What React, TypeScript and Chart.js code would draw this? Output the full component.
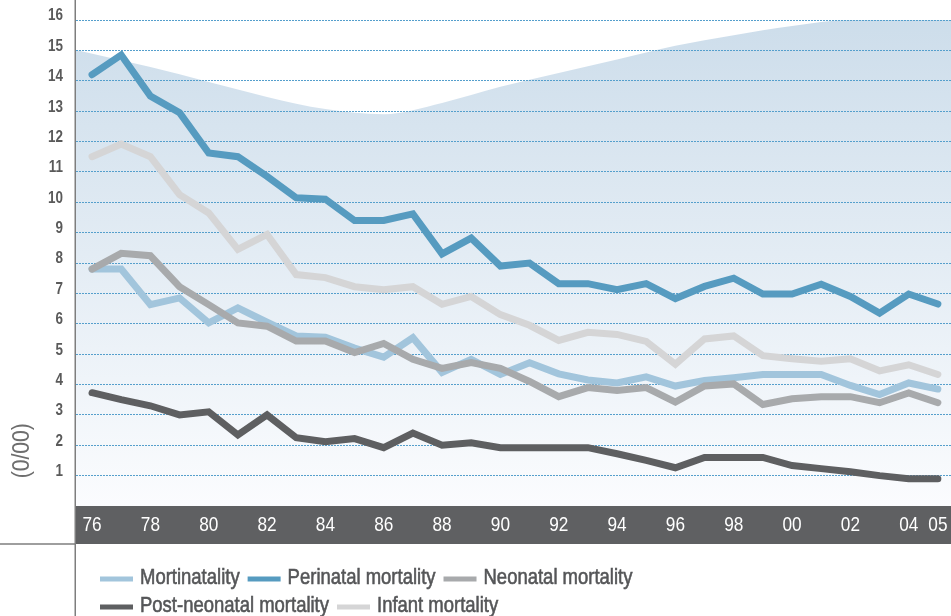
import React, { useEffect, useRef } from 'react';
import { Chart, registerables } from 'chart.js';

Chart.register(...registerables);

const BASE_FONT = "'Liberation Sans', Arial, sans-serif";

const years = [
  1976, 1977, 1978, 1979, 1980, 1981, 1982, 1983, 1984, 1985,
  1986, 1987, 1988, 1989, 1990, 1991, 1992, 1993, 1994, 1995,
  1996, 1997, 1998, 1999, 2000, 2001, 2002, 2003, 2004, 2005,
];

const mortinatality = [
  7.8, 7.8, 6.63, 6.85, 6.03, 6.52, 6.05, 5.6, 5.56, 5.2,
  4.9, 5.54, 4.4, 4.83, 4.33, 4.72, 4.35, 4.15, 4.05, 4.25,
  3.95, 4.13, 4.22, 4.33, 4.33, 4.33, 3.97, 3.67, 4.05, 3.85,
];

const perinatal = [
  14.2, 14.85, 13.5, 12.95, 11.62, 11.5, 10.85, 10.15, 10.1, 9.4,
  9.4, 9.62, 8.3, 8.82, 7.9, 8.0, 7.32, 7.32, 7.12, 7.32,
  6.83, 7.23, 7.5, 6.98, 6.98, 7.3, 6.9, 6.35, 6.98, 6.65,
];

const neonatal = [
  7.8, 8.32, 8.24, 7.22, 6.63, 6.03, 5.92, 5.43, 5.43, 5.05,
  5.35, 4.83, 4.53, 4.72, 4.53, 4.1, 3.6, 3.9, 3.8, 3.9,
  3.42, 3.95, 4.02, 3.34, 3.53, 3.6, 3.6, 3.4, 3.72, 3.4,
];

const postNeonatal = [
  3.73, 3.5, 3.3, 3.0, 3.1, 2.34, 3.0, 2.25, 2.12, 2.22,
  1.92, 2.4, 2.0, 2.08, 1.92, 1.92, 1.92, 1.92, 1.72, 1.5,
  1.26, 1.6, 1.6, 1.6, 1.33, 1.23, 1.13, 1.0, 0.9, 0.9,
];

const infant = [
  11.5, 11.92, 11.5, 10.25, 9.65, 8.45, 8.94, 7.62, 7.52, 7.22,
  7.12, 7.22, 6.64, 6.9, 6.3, 5.95, 5.45, 5.72, 5.65, 5.42,
  4.67, 5.5, 5.6, 4.95, 4.85, 4.77, 4.85, 4.45, 4.65, 4.33,
];

// decorative shaded area (upper edge)
const bgYears = [1975.3, 1978, 1980, 1982, 1984, 1986, 1988, 1990, 1992, 1994, 1996, 1998, 2000, 2002, 2004, 2005.6];
const bgValues = [15.05, 14.45, 13.96, 13.47, 13.07, 12.9, 13.27, 13.8, 14.26, 14.7, 15.15, 15.5, 15.8, 16.0, 16.0, 16.0];

const xTickYears = [1976, 1978, 1980, 1982, 1984, 1986, 1988, 1990, 1992, 1994, 1996, 1998, 2000, 2002, 2004, 2005];
const yTickValues = [1, 2, 3, 4, 5, 6, 7, 8, 9, 10, 11, 12, 13, 14, 15, 16];

const seriesNames = ['Mortinatality', 'Perinatal mortality', 'Neonatal mortality', 'Post-neonatal mortality', 'Infant mortality'];
const seriesValues = [mortinatality, perinatal, neonatal, postNeonatal, infant];
const seriesColors = ['#a2c5dc', '#569bc0', '#a8aaac', '#5e5f61', '#d5d5d6'];
const seriesOrder = [4, 2, 1, 3, 5];
const legendRows = [[0, 1, 2], [3, 4]];
const yTitle = '(0/00)';

const formatX = (v: any) => String(Number(v) % 100).padStart(2, '0');
const formatY = (v: any) => String(v);

function narrowText(
  ctx: CanvasRenderingContext2D,
  text: string,
  x: number,
  y: number,
  size: number,
  color: string,
  align: 'left' | 'center' | 'right',
  scaleX: number,
  weight = 'normal',
  stroke = 0,
) {
  ctx.save();
  ctx.font = `${weight} ${size}px ${BASE_FONT}`;
  ctx.fillStyle = color;
  ctx.strokeStyle = color;
  ctx.textBaseline = 'middle';
  ctx.textAlign = 'left';
  const w = ctx.measureText(text).width * scaleX;
  let left = x;
  if (align === 'center') left = x - w / 2;
  else if (align === 'right') left = x - w;
  ctx.translate(left, y);
  ctx.scale(scaleX, 1);
  ctx.fillText(text, 0, 0);
  if (stroke > 0) {
    ctx.lineWidth = stroke;
    ctx.strokeText(text, 0, 0);
  }
  ctx.restore();
  return w;
}

const decorPlugin = {
  id: 'decor',
  beforeDraw(chart: any) {
    const { ctx, chartArea, scales } = chart;
    const xs = scales.x;
    ctx.save();
    ctx.fillStyle = '#5f6062';
    ctx.fillRect(chartArea.left, xs.top, chart.width - chartArea.left, xs.bottom - xs.top);
    ctx.restore();
  },
  afterDraw(chart: any) {
    const { ctx, chartArea, scales } = chart;
    const xs = scales.x;
    const ys = scales.y;

    // axis frame lines
    ctx.save();
    ctx.strokeStyle = '#7e7e7e';
    ctx.lineWidth = 1.5;
    ctx.beginPath();
    ctx.moveTo(chartArea.left - 0.75, 0);
    ctx.lineTo(chartArea.left - 0.75, chart.height);
    ctx.stroke();
    ctx.beginPath();
    ctx.moveTo(0, xs.bottom);
    ctx.lineTo(chartArea.left, xs.bottom);
    ctx.stroke();
    ctx.restore();

    // x tick labels (from the scale's ticks)
    const xMid = (xs.top + xs.bottom) / 2;
    xs.ticks.forEach((t: any) => {
      const label = t.label !== undefined ? String(t.label) : formatX(t.value);
      narrowText(ctx, label, xs.getPixelForValue(t.value), xMid, 21, '#ffffff', 'center', 0.82);
    });

    // y tick labels (from the scale's ticks)
    ys.ticks.forEach((t: any) => {
      const label = t.label !== undefined ? String(t.label) : formatY(t.value);
      narrowText(ctx, label, chartArea.left - 13, ys.getPixelForValue(t.value) - 4, 16, '#5a5a5a', 'right', 0.84, 'bold');
    });

    // y title
    ctx.save();
    ctx.translate(23, ys.getPixelForValue(1.82));
    ctx.rotate(-Math.PI / 2);
    narrowText(ctx, yTitle, 0, 0, 23, '#6e6e6e', 'center', 0.92);
    ctx.restore();

    // legend
    const rowYs = [xs.bottom + 34, xs.bottom + 62];
    legendRows.forEach((row, r) => {
      let x = chartArea.left + 24;
      const y = rowYs[r];
      row.forEach((i) => {
        ctx.save();
        ctx.fillStyle = seriesColors[i];
        ctx.fillRect(x, y - 1.5, 33, 5);
        ctx.restore();
        const w = narrowText(ctx, seriesNames[i], x + 40, y, 22, '#555658', 'left', 0.84, 'normal', 0.6);
        x += 40 + w + 8;
      });
    });
  },
};

export default function App() {
  const ref = useRef<HTMLCanvasElement | null>(null);

  useEffect(() => {
    if (!ref.current) return;
    const datasets: any[] = seriesNames.map((name, i) => ({
      label: name,
      data: years.map((yr, j) => ({ x: yr, y: seriesValues[i][j] })),
      borderColor: seriesColors[i],
      backgroundColor: seriesColors[i],
      borderWidth: 7,
      borderCapStyle: 'round',
      borderJoinStyle: 'miter',
      pointRadius: 0,
      tension: 0,
      fill: false,
      order: seriesOrder[i],
    }));
    datasets.push({
      label: 'background',
      data: bgYears.map((yr, j) => ({ x: yr, y: bgValues[j] })),
      borderWidth: 0,
      borderColor: 'rgba(0,0,0,0)',
      pointRadius: 0,
      cubicInterpolationMode: 'monotone',
      fill: 'origin',
      order: 10,
      backgroundColor: (c: any) => {
        const { ctx, chartArea } = c.chart;
        if (!chartArea) return '#dde8f1';
        const g = ctx.createLinearGradient(0, chartArea.top, 0, chartArea.bottom);
        g.addColorStop(0, '#cbdcea');
        g.addColorStop(0.5, '#e3ecf4');
        g.addColorStop(1, '#fbfcfe');
        return g;
      },
    });

    const chart = new Chart(ref.current, {
      type: 'line',
      data: { datasets },
      plugins: [decorPlugin],
      options: {
        animation: false,
        responsive: false,
        events: [],
        layout: { padding: { left: 0, right: 0, top: 0, bottom: 72 } },
        plugins: {
          legend: { display: false },
          tooltip: { enabled: false },
          filler: { drawTime: 'beforeDraw' },
        },
        scales: {
          x: {
            type: 'linear',
            min: 1975.45,
            max: 2005.45,
            grid: { display: false },
            border: { display: false },
            afterBuildTicks: (s: any) => {
              s.ticks = xTickYears.map((v) => ({ value: v }));
            },
            afterFit: (s: any) => {
              s.height = 38;
            },
            ticks: {
              display: false,
              autoSkip: false,
              maxRotation: 0,
              minRotation: 0,
              callback: formatX,
            },
          },
          y: {
            min: 0,
            max: 16.66,
            grid: { color: '#559fcc', lineWidth: 1, drawTicks: false, borderDash: [2, 1] } as any,
            border: { display: false, dash: [2, 1] },
            afterBuildTicks: (s: any) => {
              s.ticks = yTickValues.map((v) => ({ value: v }));
            },
            afterFit: (s: any) => {
              s.width = 76;
            },
            ticks: {
              display: false,
              callback: formatY,
            },
          },
        },
      },
    });
    return () => chart.destroy();
  }, []);

  return (
    <div style={{ position: 'absolute', left: 0, top: 0, width: 951, height: 616, background: '#ffffff' }}>
      <canvas ref={ref} width={951} height={616} style={{ display: 'block' }} />
    </div>
  );
}
